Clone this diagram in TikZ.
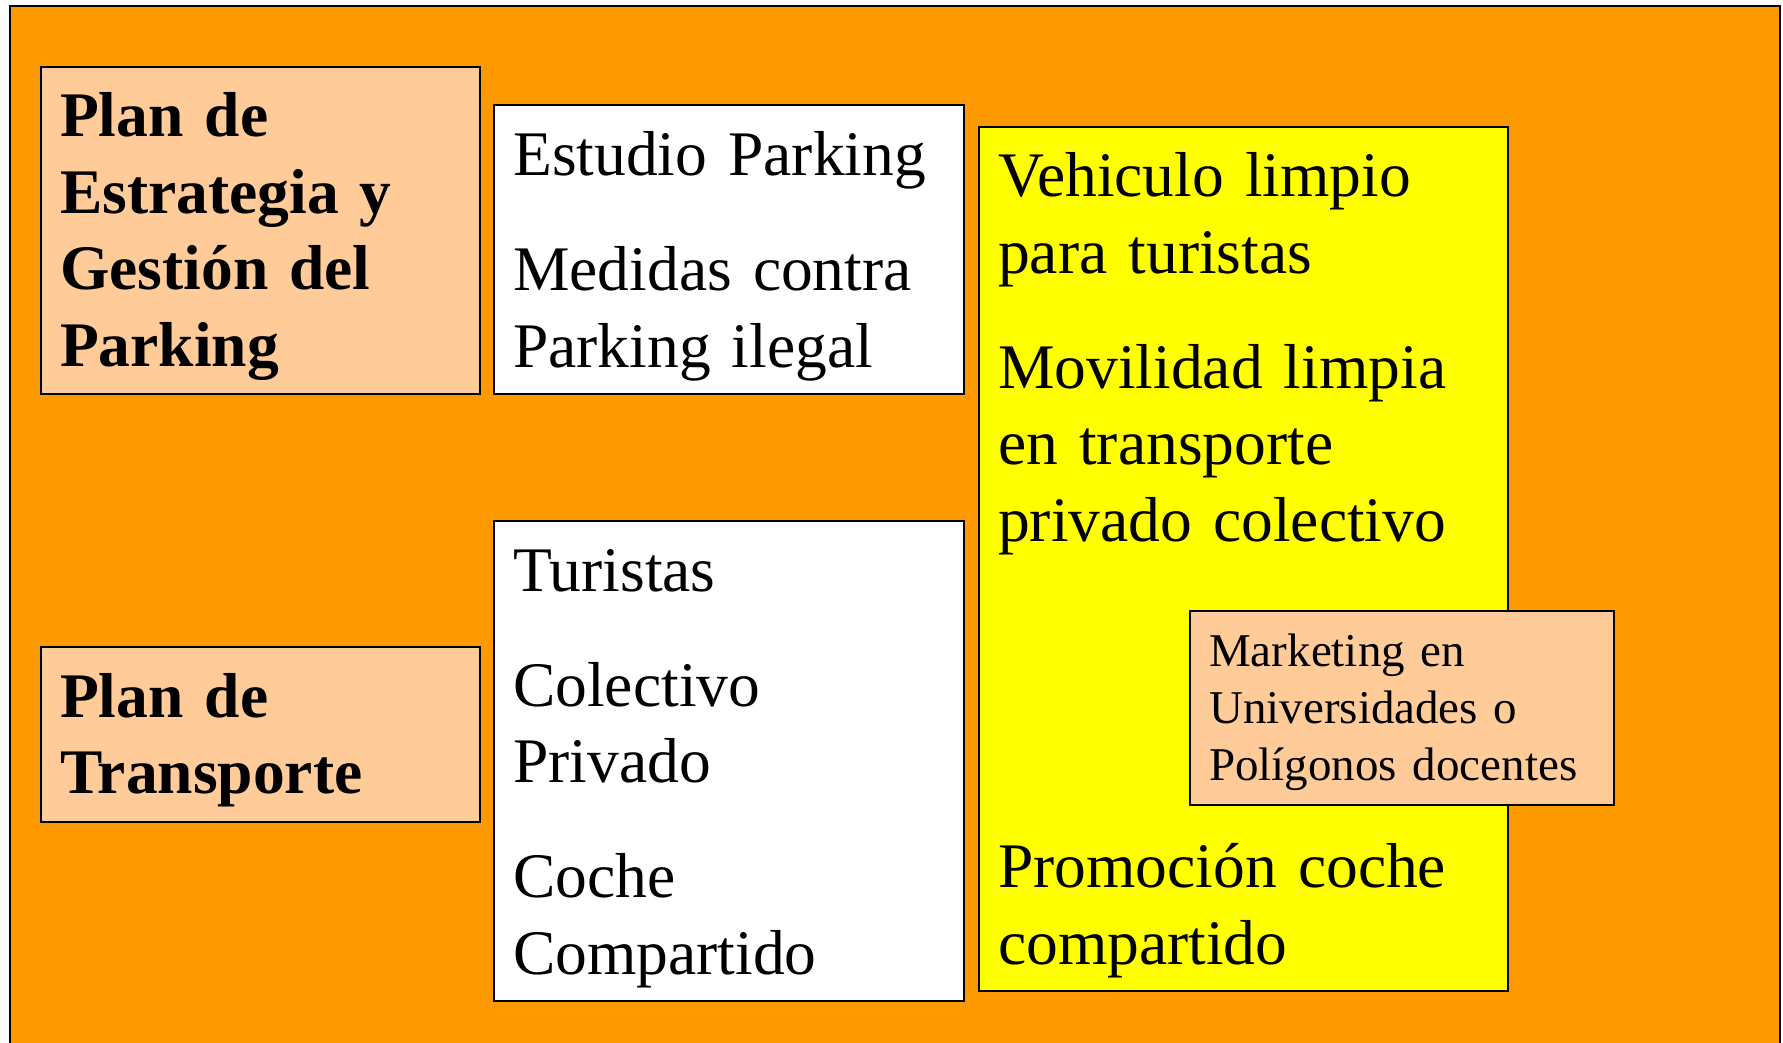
\documentclass[tikz,border=0pt]{standalone}
\usepackage{fontspec}
\setmainfont{Liberation Serif}
\definecolor{naranja}{RGB}{255,153,0}
\definecolor{melocoton}{RGB}{255,204,153}
\definecolor{amarillo}{RGB}{255,255,0}
\begin{document}
\begin{tikzpicture}[x=1pt,y=1pt,
  caja/.style={draw,line width=2.2pt,anchor=north west,inner sep=0pt},
  texto/.style={anchor=base west,inner sep=0pt,align=left,font=\fontsize{63.5}{76.5}\selectfont},
  negrita/.style={texto,font=\fontsize{63.5}{76.5}\selectfont\bfseries},
  textop/.style={texto,font=\fontsize{47}{57}\selectfont}]
\useasboundingbox(0,0)rectangle(1783,-1043);
\node[caja,fill=naranja,line width=2pt,minimum width=1770pt,minimum height=1060pt](fondo)at(9,-5){};
\node[caja,fill=melocoton,minimum width=439pt,minimum height=327pt](estrategia)at(40,-66){};
\node[negrita,text width=420pt](estrategiatxt)at([xshift=20pt,yshift=-71pt]estrategia.north west){Plan de\\Estrategia y\\Gestión del\\Parking};
\node[caja,fill=white,minimum width=470pt,minimum height=289pt](estudio)at(493,-104){};
\node[texto,text width=450pt](estudiotxt)at([xshift=20pt,yshift=-72pt]estudio.north west){Estudio Parking\\[38.5pt]Medidas contra\\Parking ilegal};
\node[caja,fill=white,minimum width=470pt,minimum height=480pt](turistas)at(493,-520){};
\node[texto,text width=450pt](turistastxt)at([xshift=20pt,yshift=-71pt]turistas.north west){Turistas\\[38.5pt]Colectivo\\Privado\\[38.5pt]Coche\\Compartido};
\node[caja,fill=melocoton,minimum width=439pt,minimum height=175pt](transporte)at(40,-646){};
\node[negrita,text width=420pt](transportetxt)at([xshift=20pt,yshift=-71pt]transporte.north west){Plan de\\Transporte};
\node[caja,fill=amarillo,minimum width=529pt,minimum height=864pt](limpio)at(978,-126){};
\node[texto,text width=500pt](limpiotxt)at([xshift=20pt,yshift=-71pt]limpio.north west){Vehiculo limpio\\para turistas\\[38.5pt]Movilidad limpia\\en transporte\\privado colectivo\\[270pt]Promoción coche\\compartido};
\node[caja,fill=melocoton,minimum width=424pt,minimum height=194pt](marketing)at(1189,-610){};
\node[textop,text width=410pt](marketingtxt)at([xshift=20pt,yshift=-56pt]marketing.north west){Marketing en\\Universidades o\\Polígonos docentes};
\end{tikzpicture}
\end{document}
